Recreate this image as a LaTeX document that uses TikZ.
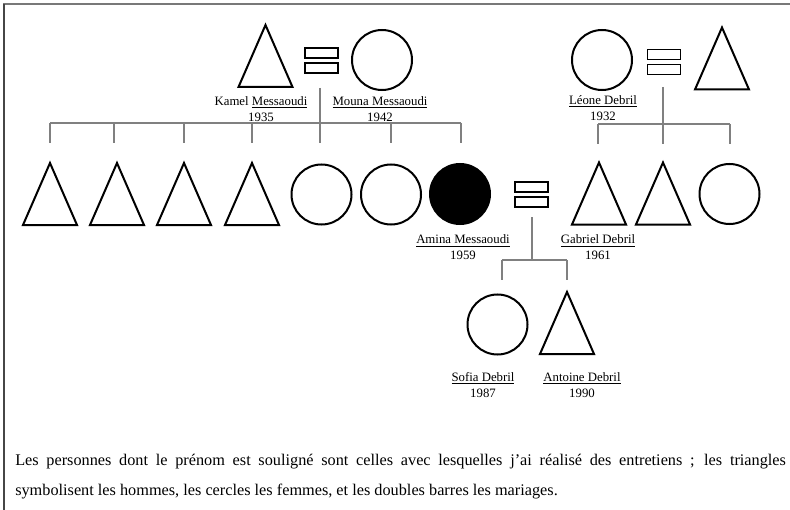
\documentclass[tikz,border=0pt]{standalone}
\usepackage{fontspec}
\setmainfont{Liberation Serif}

\tikzset{
  shapeline/.style={draw=black, line width=1.5pt},
  female/.style={shapeline, circle, minimum size=45pt, inner sep=0pt},
  link/.style={draw={rgb,255:red,128;green,128;blue,128}, line width=0.8pt},
  namelabel/.style={align=center, font=\fontsize{9.6}{12}\selectfont, inner sep=0pt},
  male/.pic={\draw[shapeline] (0,31) -- (27,-31) -- (-27,-31) -- cycle;},
  wed/.pic={\draw[line width=1pt] (-16.5,-12.5) rectangle (16.5,-2.5) (-16.5,2.5) rectangle (16.5,12.5);}
}

\begin{document}
\begin{tikzpicture}[x=0.75pt,y=0.75pt,yscale=-1,xscale=1]
\useasboundingbox (0,0) rectangle (790,510);

% frame
\draw [color={rgb, 255:red, 120; green, 120; blue, 120 }, line width=1.5pt] (3,4) -- (790,4);
\draw [color={rgb, 255:red, 70; green, 70; blue, 70 }, line width=1.2pt] (4,4) -- (4,510);

% grandparents, Messaoudi
\pic at (265.5,56) {male};
\pic at (321.5,60.5) {wed};
\node [female] (mouna) at (382,60) {};
\node [namelabel] (kamellab) at (261,109) {Kamel \underline{Messaoudi}\\1935};
\node [namelabel] (mounalab) at (380,109) {\underline{Mouna Messaoudi}\\1942};

% grandparents, Debril
\node [female] (leone) at (602,60) {};
\pic at (664,62) {wed};
\pic at (722,58.5) {male};
\node [namelabel] (leonelab) at (603,108) {\underline{Léone Debril}\\1932};

% siblings row
\foreach \x in {50,117,184,252} \pic at (\x,194) {male};
\node [female] (sis1) at (321.5,194.5) {};
\node [female] (sis2) at (391,194.5) {};
\node [female, fill=black] (amina) at (460,194) {};
\pic at (531.5,194.5) {wed};
\pic at (599,193.5) {male};
\pic at (663,193.5) {male};
\node [female] (dsis) at (729.5,194) {};
\node [namelabel] (aminalab) at (463,247.5) {\underline{Amina Messaoudi}\\1959};
\node [namelabel] (gabriellab) at (598,247.5) {\underline{Gabriel Debril}\\1961};

% grandchildren
\node [female] (sofia) at (497.5,324.5) {};
\pic at (567,323) {male};
\node [namelabel] (sofialab) at (483,385) {\underline{Sofia Debril}\\1987};
\node [namelabel] (antoinelab) at (582,385) {\underline{Antoine Debril}\\1990};

% descent lines, Messaoudi
\coordinate (kmwed) at (320,88);
\foreach \x [count=\i] in {50,114,184,252,320,391,461}
  \coordinate (ks\i) at (\x,123);
\draw [link] (kmwed) -- (ks5);
\draw [link] (ks1) -- (ks7);
\foreach \i in {1,...,7} \draw [link] (ks\i) -- ++(0,20);

% descent lines, Debril
\coordinate (ldwed) at (663,87);
\foreach \x [count=\i] in {598,663,730}
  \coordinate (ls\i) at (\x,124);
\draw [link] (ldwed) -- (ls2);
\draw [link] (ls1) -- (ls3);
\foreach \i in {1,...,3} \draw [link] (ls\i) -- ++(0,20);

% descent lines, Amina and Gabriel
\coordinate (agwed) at (532,217);
\coordinate (as1) at (502,260);
\coordinate (as2) at (567,260);
\coordinate (asmid) at (532,260);
\draw [link] (agwed) -- (asmid);
\draw [link] (as1) -- (as2);
\foreach \i in {1,2} \draw [link] (as\i) -- ++(0,20);

% caption
\node [anchor=west, inner sep=0pt, font=\fontsize{12.2}{14}\selectfont] (cap1) at (15,462)
  {\makebox[578pt][s]{Les personnes dont le prénom est souligné sont celles avec lesquelles j’ai réalisé des entretiens ; les triangles}};
\node [anchor=west, inner sep=0pt, font=\fontsize{12.2}{14}\selectfont] (cap2) at (15,492)
  {symbolisent les hommes, les cercles les femmes, et les doubles barres les mariages.};

\end{tikzpicture}
\end{document}
